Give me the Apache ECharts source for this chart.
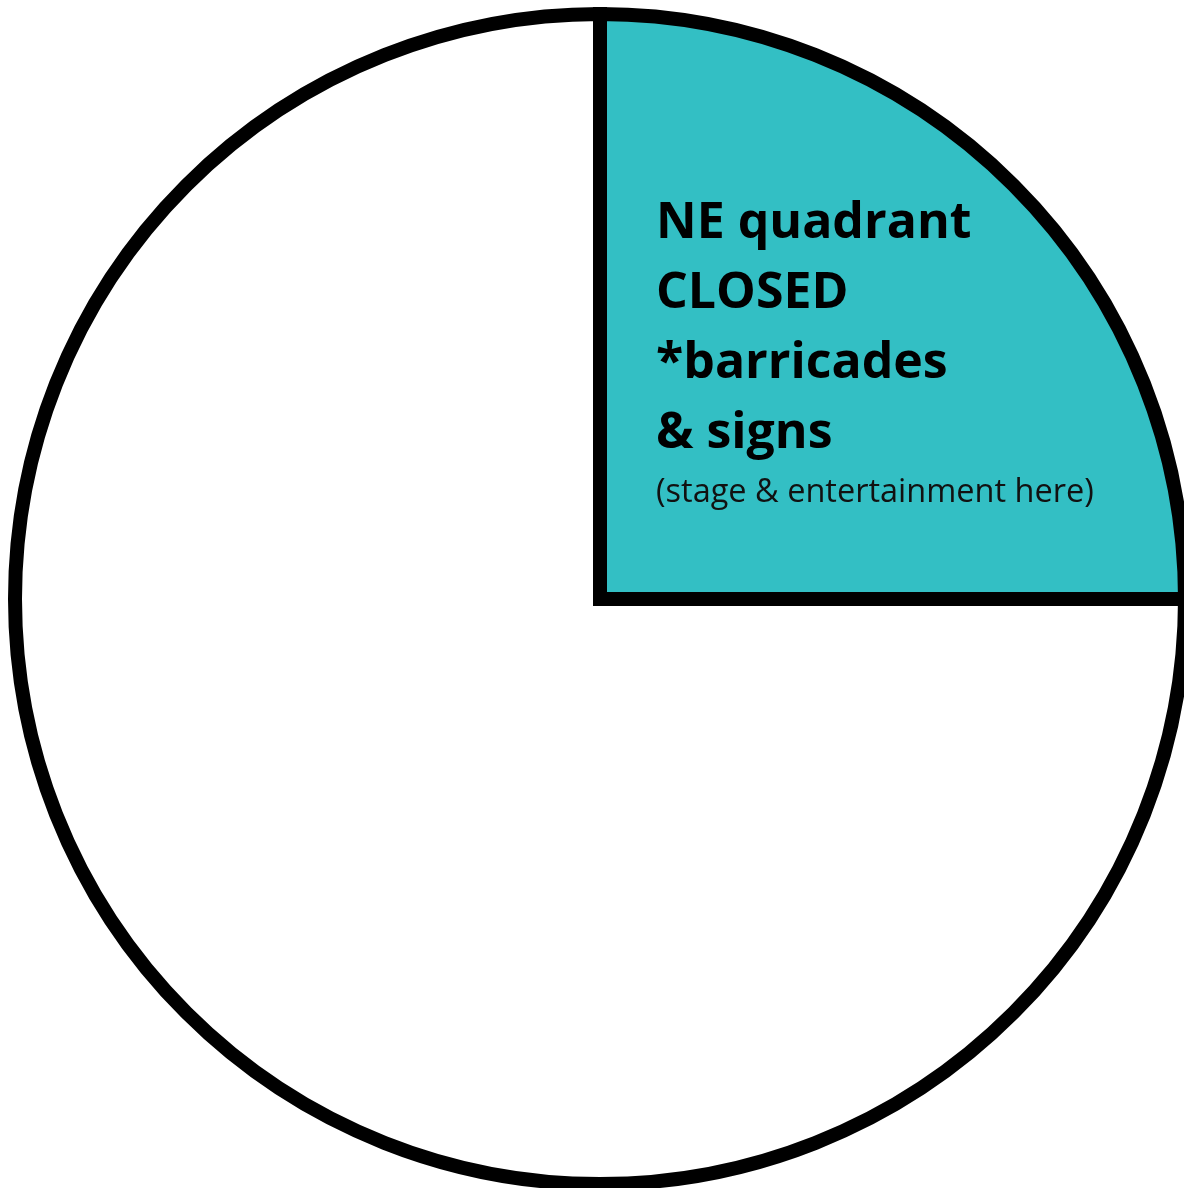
<!DOCTYPE html>
<html>
<head>
<meta charset="utf-8">
<script src="https://cdn.jsdelivr.net/npm/echarts@6/dist/echarts.min.js"></script>
<style>
html,body{margin:0;padding:0;background:#fff;}
#chart{width:1184px;height:1188px;}
</style>
</head>
<body>
<div id="chart"></div>
<script>
const sliceNames = ['NE quadrant', 'Open area'];
const sliceValues = [1, 3];
const sliceColors = ['#33BFC4', '#FFFFFF'];
const boldLines = ['NE quadrant', 'CLOSED', '*barricades', '& signs'];
const noteLine = '(stage & entertainment here)';

const chart = echarts.init(document.getElementById('chart'), null, {renderer: 'canvas'});
const boldBaselines = [242, 312, 382, 452];
const graphics = boldLines.map((t, i) => ({
  type: 'text', x: 656, y: boldBaselines[i] - 18, silent: true, z: 100,
  style: {text: t, font: 'bold 50px "Open Sans"', fill: '#000', verticalAlign: 'middle', align: 'left'}
}));
graphics.push({
  type: 'text', x: 656, y: 504 - 11, silent: true, z: 100,
  style: {text: noteLine, font: '32.5px "Open Sans"', fill: '#111', verticalAlign: 'middle', align: 'left'}
});
chart.setOption({
  backgroundColor: '#fff',
  animation: false,
  series: [{
    type: 'pie',
    center: [600, 599],
    radius: [0, 585],
    startAngle: 90,
    clockwise: true,
    z: 1,
    label: {show: false},
    labelLine: {show: false},
    emphasis: {disabled: true},
    itemStyle: {borderColor: '#000', borderWidth: 14, borderJoin: 'miter'},
    data: sliceNames.map((n, i) => ({name: n, value: sliceValues[i], itemStyle: {color: sliceColors[i]}}))
  }],
  graphic: {elements: graphics}
});
</script>
</body>
</html>
